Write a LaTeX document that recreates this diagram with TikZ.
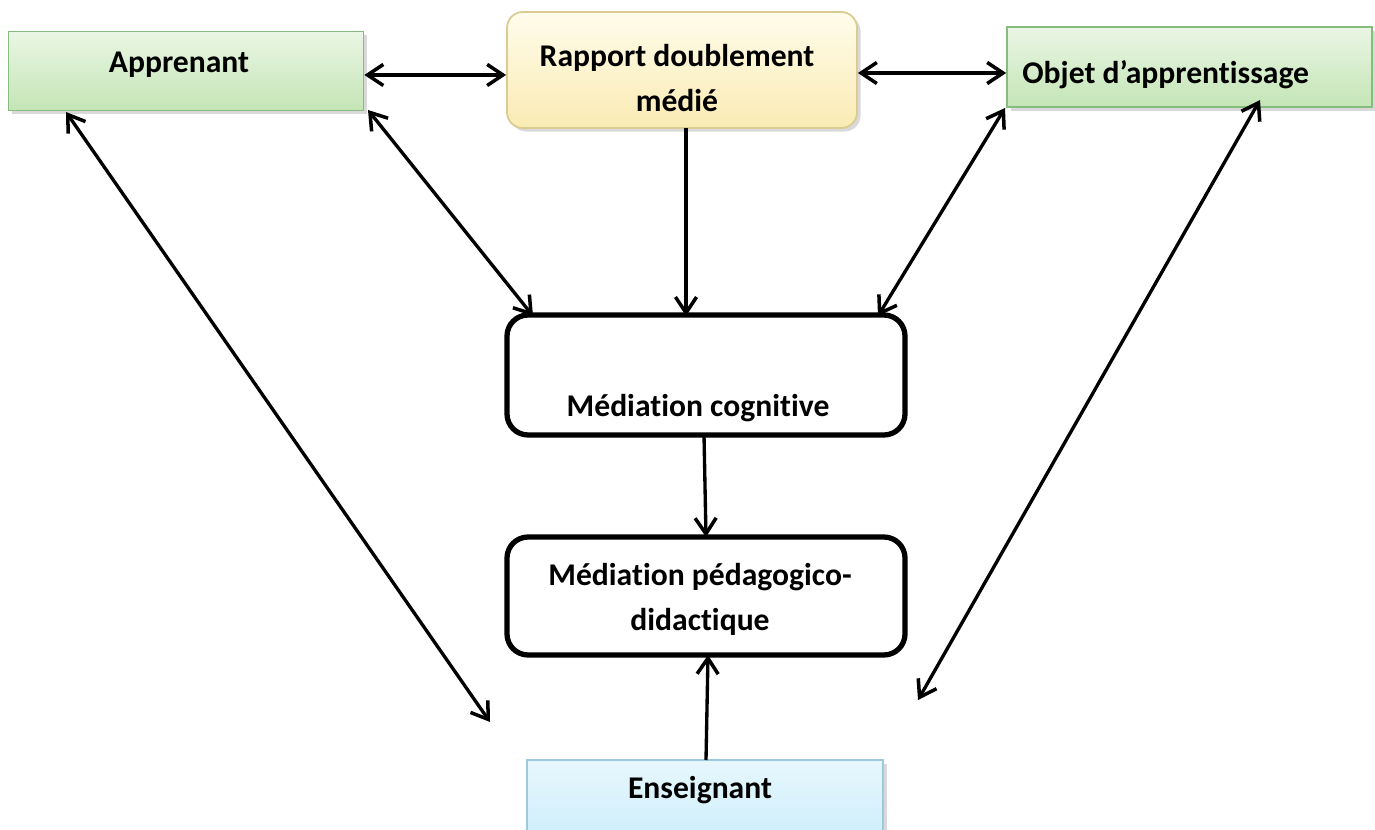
\documentclass[tikz,border=0pt]{standalone}
\usepackage{fontspec}
\setmainfont{Carlito}[Ligatures={NoCommon}]
\usetikzlibrary{arrows.meta,shadows}
\definecolor{greentop}{HTML}{EAF6E4}
\definecolor{greenbot}{HTML}{C4E5B6}
\definecolor{greenline}{HTML}{86BD7E}
\definecolor{yeltop}{HTML}{FFFCEB}
\definecolor{yelbot}{HTML}{FAEBB3}
\definecolor{yelline}{HTML}{D9CB92}
\definecolor{bluetop}{HTML}{E8F7FD}
\definecolor{bluebot}{HTML}{C5EBFA}
\definecolor{blueline}{HTML}{9CC9DD}
\tikzset{
  lbl/.style={font=\fontsize{18}{25.5}\selectfont\bfseries, inner sep=0pt, align=center},
  softshadow/.style={drop shadow={shadow xshift=2pt, shadow yshift=-2pt, fill=black, opacity=0.15}},
  greenbox/.style={draw=greenline, line width=1pt, top color=greentop, bottom color=greenbot, softshadow, inner sep=0pt},
  yellowbox/.style={draw=yelline, line width=1pt, rounded corners=9pt, top color=yeltop, bottom color=yelbot, softshadow, inner sep=0pt},
  bluebox/.style={draw=blueline, line width=1pt, top color=bluetop, bottom color=bluebot, softshadow, inner sep=0pt},
  medbox/.style={draw=black, line width=3pt, rounded corners=12pt, fill=white, inner sep=0pt},
  barbtip/.tip={Straight Barb[length=9pt,width=12pt,line width=2pt]},
  link/.style={line width=1.9pt, -barbtip},
  dlink/.style={line width=1.9pt, barbtip-barbtip}
}
\begin{document}
\begin{tikzpicture}[x=0.02cm,y=-0.02cm]
\useasboundingbox (0,0) rectangle (1375,830);

% top row
\node[greenbox, minimum width=355*0.02cm, minimum height=79*0.02cm] (app) at (186,71) {};
\node[lbl] (appt) at (179,65) {Apprenant};

\node[yellowbox, minimum width=350*0.02cm, minimum height=116*0.02cm] (rap) at (682,70) {};
\node[lbl] (rapt) at (677,78) {Rapport doublement\\médié};

\node[greenbox, minimum width=365*0.02cm, minimum height=80*0.02cm] (obj) at (1189.5,67) {};
\node[lbl, anchor=west] (objt) at (1022,75) {Objet d’apprentissage};

% mediation boxes
\node[medbox, minimum width=398*0.02cm, minimum height=120*0.02cm] (cog) at (706,375) {};
\node[lbl] (cogt) at (698,408) {Médiation cognitive};

\node[medbox, minimum width=398*0.02cm, minimum height=118*0.02cm] (ped) at (706,596) {};
\node[lbl] (pedt) at (700,599) {Médiation pédagogico-\\didactique};

% teacher box, cut by the lower edge
\begin{scope}
\clip (0,0) rectangle (1375,830);
\node[bluebox, minimum width=356*0.02cm, minimum height=100*0.02cm] (ens) at (705,810) {};
\end{scope}
\node[lbl] (enst) at (700,790) {Enseignant};

% free ends of the long diagonals
\coordinate (le) at (490,722);
\coordinate (re) at (918,700);

% connectors
\draw[dlink] (app.east |- 0,75) -- (rap.west |- 0,75);
\draw[dlink] (rap.east |- 0,73) -- (obj.west |- 0,73);
\draw[dlink] (368,110) -- (533,316);
\draw[link] (686,128) -- (686,316);
\draw[dlink] (1005,108) -- (878,316);
\draw[dlink] (66,112) -- (le);
\draw[dlink] (1260,100) -- (re);
\draw[link] (704,435) -- (706,537);
\draw[link] (706,760) -- (708,655);
\end{tikzpicture}
\end{document}
